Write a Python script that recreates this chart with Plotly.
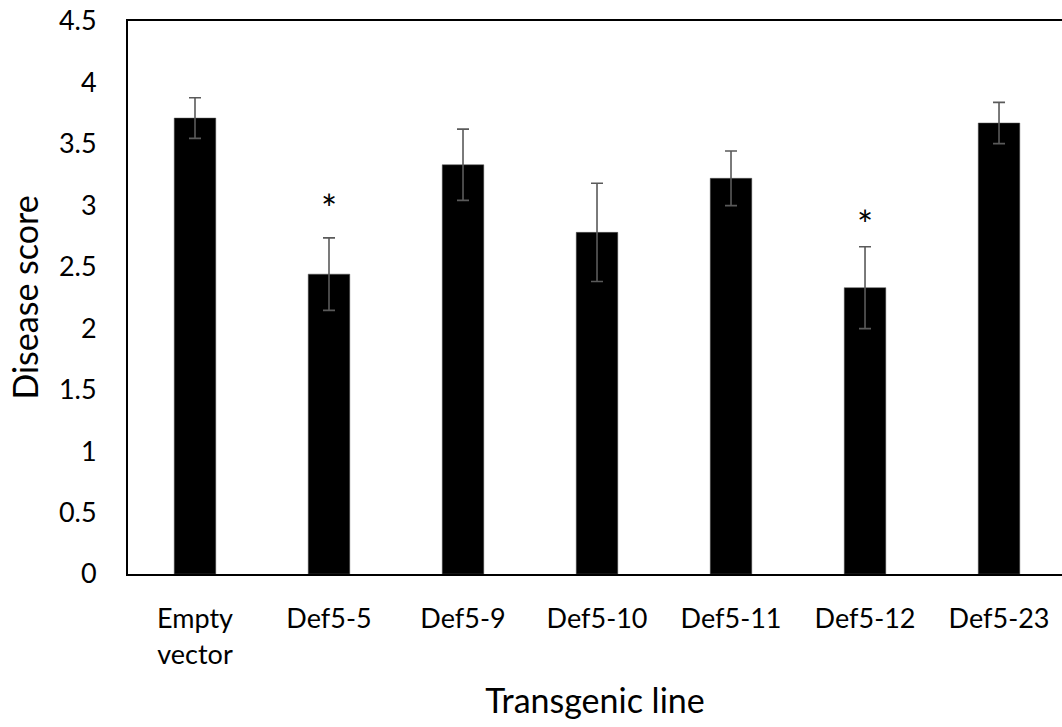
import plotly.graph_objects as go

categories = ["Empty<br>vector", "Def5-5", "Def5-9", "Def5-10", "Def5-11", "Def5-12", "Def5-23"]
scores = [3.71, 2.44, 3.33, 2.78, 3.22, 2.33, 3.67]
errors = [0.165, 0.295, 0.29, 0.40, 0.222, 0.333, 0.168]
sig_labels = ["", "*", "", "", "", "*", ""]
sig_y = [None, 2.98, None, None, None, 2.85, None]
y_ticks = [0, 0.5, 1, 1.5, 2, 2.5, 3, 3.5, 4, 4.5]
y_ticktext = ["0", "0.5", "1", "1.5", "2", "2.5", "3", "3.5", "4", "4.5"]

FONT = "Lato"

fig = go.Figure()
fig.add_trace(go.Bar(
    x=list(range(len(categories))),
    y=scores,
    width=0.31,
    marker=dict(color="black", line=dict(color="#555555", width=0.5)),
    error_y=dict(type="data", array=errors, visible=True, color="#5a5a5a",
                 thickness=1.6, width=6),
    showlegend=False,
))

for i, (lab, yy) in enumerate(zip(sig_labels, sig_y)):
    if lab:
        fig.add_annotation(x=i, y=yy, text=lab, showarrow=False,
                           font=dict(family=FONT, size=38, color="black"),
                           xanchor="center", yanchor="middle")

fig.update_layout(
    width=1062, height=727,
    margin=dict(l=128, r=0, t=21, b=153),
    plot_bgcolor="white", paper_bgcolor="white",
    font=dict(family=FONT, size=27, color="black"),
    bargap=0.69,
)
fig.update_xaxes(
    range=[-0.5, 6.47],
    tickmode="array", tickvals=list(range(len(categories))), ticktext=categories,
    showline=True, linecolor="black", linewidth=2, mirror=True,
    ticks="", showgrid=False, zeroline=False,
    ticklabelstandoff=20,
    tickfont=dict(family=FONT, size=27),
    title=dict(text="Transgenic line", font=dict(family=FONT, size=34), standoff=21),
)
fig.update_yaxes(
    range=[0, 4.5],
    tickmode="array", tickvals=y_ticks, ticktext=y_ticktext,
    showline=True, linecolor="black", linewidth=2, mirror=False,
    ticks="", showgrid=False, zeroline=False,
    ticklabelstandoff=24,
    tickfont=dict(family=FONT, size=27),
    title=dict(text="Disease score", font=dict(family=FONT, size=34), standoff=10),
)

fig.write_html("out.html")
